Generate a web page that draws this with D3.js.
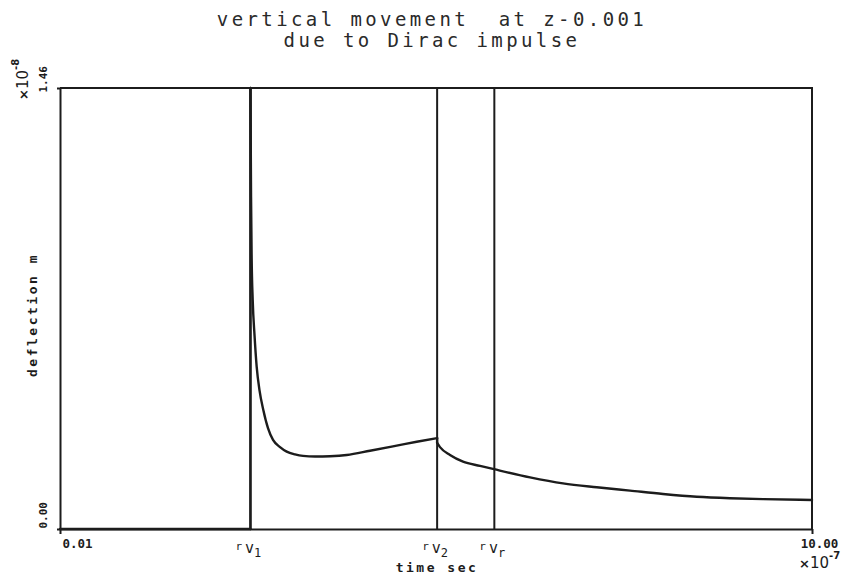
<!DOCTYPE html>
<html>
<head>
<meta charset="utf-8">
<script src="https://cdn.jsdelivr.net/npm/d3@7"></script>
<style>
  body { margin: 0; background: #fff; }
  svg { display: block; }
</style>
</head>
<body>
<svg id="chart" width="848" height="578"></svg>
<script>
// chart text
let titleLines = ["vertical movement  at z-0.001", "due to Dirac impulse"];
let xLabel = "time sec";
let yLabel = "deflection m";

// axis ticks (units of 1e-7 s and 1e-8 m)
let xTicks = [0.01, 10.00];
let yTicks = [0.00, 1.46];
let xExponent = "-7";
let yExponent = "-8";

// marker lines: rv1, rv2, rvr
let markerTimes = [2.54, 5.02, 5.78];
let markerSubs = ["1", "2", "r"];

// deflection curve (jumps where a time repeats)
let timeVals = [0.01, 2.54, 2.54, 2.548, 2.556, 2.570, 2.594, 2.623, 2.660, 2.711, 2.773, 2.840, 2.933, 3.022,
    3.132, 3.238, 3.398, 3.597, 3.819, 4.128, 4.483, 4.749, 5.02, 5.02, 5.058, 5.191, 5.364, 5.590,
    5.776, 6.254, 6.692, 7.140, 7.582, 8.021, 8.469, 8.91, 9.35, 10.00];
let deflVals = [0, 0, 1.46, 1.10, 0.90, 0.758, 0.642, 0.537, 0.460, 0.394, 0.334, 0.295, 0.271, 0.256,
    0.247, 0.242, 0.240, 0.241, 0.245, 0.259, 0.276, 0.289, 0.301, 0.285, 0.271, 0.245, 0.223, 0.209,
    0.198, 0.171, 0.151, 0.138, 0.127, 0.116, 0.107, 0.102, 0.099, 0.096];

let margin = { top: 88, right: 36, bottom: 49, left: 60 };
let width = 848 - margin.left - margin.right;
let height = 578 - margin.top - margin.bottom;
let ink = "#1c1c1c";

let svg = d3.select("#chart");
let g = svg.append("g").attr("transform", "translate(" + margin.left + "," + margin.top + ")");

let x = d3.scaleLinear().domain([xTicks[0], xTicks[1]]).range([0, width]);
let y = d3.scaleLinear().domain([yTicks[0], yTicks[1]]).range([height, 0]);

// frame (top and right sides; bottom/left come from the axes)
g.append("path")
    .attr("d", "M0,0H" + width + "V" + height)
    .attr("fill", "none").attr("stroke", ink).attr("stroke-width", 2);

// bottom axis
let xAxis = g.append("g")
    .attr("transform", "translate(0," + height + ")")
    .call(d3.axisBottom(x).tickValues(xTicks).tickSize(5).tickSizeOuter(0).tickFormat(d3.format(".2f")));
xAxis.select(".domain").attr("stroke", ink).attr("stroke-width", 2);
xAxis.selectAll("line").attr("stroke", ink).attr("stroke-width", 2);
xAxis.selectAll("text")
    .attr("y", 10)
    .attr("dx", d => d == xTicks[0] ? 17 : 7)
    .attr("fill", ink)
    .style("font-family", "DejaVu Sans Mono")
    .style("font-weight", "bold")
    .style("font-size", "12.5px");

// left axis
let yAxis = g.append("g")
    .call(d3.axisLeft(y).tickValues(yTicks).tickSize(3).tickSizeOuter(0).tickFormat(d3.format(".2f")));
yAxis.select(".domain").attr("stroke", ink).attr("stroke-width", 2);
yAxis.selectAll("line").attr("stroke", ink).attr("stroke-width", 2);
yAxis.selectAll("text")
    .attr("x", null).attr("dy", null)
    .attr("text-anchor", "start")
    .attr("transform", d => "translate(-13," + (d == 0 ? -1 : 4) + ") rotate(-90)")
    .attr("fill", ink)
    .style("font-family", "DejaVu Sans Mono")
    .style("font-weight", "bold")
    .style("font-size", "11px");

// marker lines
g.selectAll(".marker")
    .data(markerTimes)
    .enter().append("line")
    .attr("class", "marker")
    .attr("x1", d => x(d)).attr("x2", d => x(d))
    .attr("y1", 0).attr("y2", height)
    .attr("stroke", ink).attr("stroke-width", 2);

let markerText = g.selectAll(".marker-label")
    .data(markerTimes)
    .enter().append("text")
    .attr("class", "marker-label")
    .attr("x", d => x(d) - 15)
    .attr("y", height + 24)
    .attr("fill", ink)
    .style("font-family", "DejaVu Sans Mono");
markerText.append("tspan").attr("font-size", "11px").attr("dy", -3).text("r");
markerText.append("tspan").attr("font-size", "15px").attr("dy", 3).attr("dx", 3).text("v");
markerText.append("tspan").attr("font-size", "12px").attr("dy", 4).text((d, i) => markerSubs[i]);

// the curve: split into pieces at the jumps, smooth each piece
let curveData = timeVals.map((t, i) => ({ t: t, v: deflVals[i] }));
let pieces = [[curveData[0]]];
for (let i = 1; i < curveData.length; i++) {
    if (curveData[i].t == curveData[i - 1].t) {
        pieces.push([curveData[i - 1], curveData[i]]);  // the vertical jump
        pieces.push([curveData[i]]);
    } else {
        pieces[pieces.length - 1].push(curveData[i]);
    }
}
let line = d3.line().x(d => x(d.t)).y(d => y(d.v)).curve(d3.curveMonotoneX);
let jump = d3.line().x(d => x(d.t)).y(d => y(d.v));
g.selectAll(".curve")
    .data(pieces)
    .enter().append("path")
    .attr("class", "curve")
    .attr("fill", "none")
    .attr("stroke", ink)
    .attr("stroke-width", 2.4)
    .attr("stroke-linecap", "round")
    .attr("d", d => d.length == 2 && d[0].t == d[1].t ? jump(d) : line(d));

// title
svg.selectAll(".title")
    .data(titleLines)
    .enter().append("text")
    .attr("class", "title")
    .attr("x", 432)
    .attr("y", (d, i) => 26 + i * 21)
    .attr("text-anchor", "middle")
    .attr("fill", "#2a2a2a")
    .style("font-family", "DejaVu Sans Mono")
    .style("font-size", "19px")
    .style("letter-spacing", "3.4px")
    .style("white-space", "pre")
    .text(d => d);

// axis titles
svg.append("text")
    .attr("x", 437).attr("y", 572)
    .attr("text-anchor", "middle")
    .attr("fill", ink)
    .style("font-family", "DejaVu Sans Mono")
    .style("font-weight", "bold")
    .style("font-size", "13px")
    .style("letter-spacing", "2.5px")
    .text(xLabel);

svg.append("text")
    .attr("transform", "translate(37,315) rotate(-90)")
    .attr("text-anchor", "middle")
    .attr("fill", ink)
    .style("font-family", "DejaVu Sans Mono")
    .style("font-weight", "bold")
    .style("font-size", "13px")
    .style("letter-spacing", "2.5px")
    .text(yLabel);

// exponent labels
let xExp = svg.append("text")
    .attr("x", 799).attr("y", 568)
    .attr("fill", ink)
    .style("font-family", "DejaVu Sans");
xExp.append("tspan").style("font-size", "13px").style("font-weight", "bold").text("×");
xExp.append("tspan").style("font-size", "15px").text("10");
xExp.append("tspan").style("font-size", "10px").style("font-weight", "bold").attr("dy", -9).text(xExponent);

let yExp = svg.append("text")
    .attr("transform", "translate(28,100) rotate(-90)")
    .attr("fill", ink)
    .style("font-family", "DejaVu Sans");
yExp.append("tspan").style("font-size", "13px").style("font-weight", "bold").text("×");
yExp.append("tspan").style("font-size", "15px").text("10");
yExp.append("tspan").style("font-size", "10px").style("font-weight", "bold").attr("dy", -9).text(yExponent);
</script>
</body>
</html>
